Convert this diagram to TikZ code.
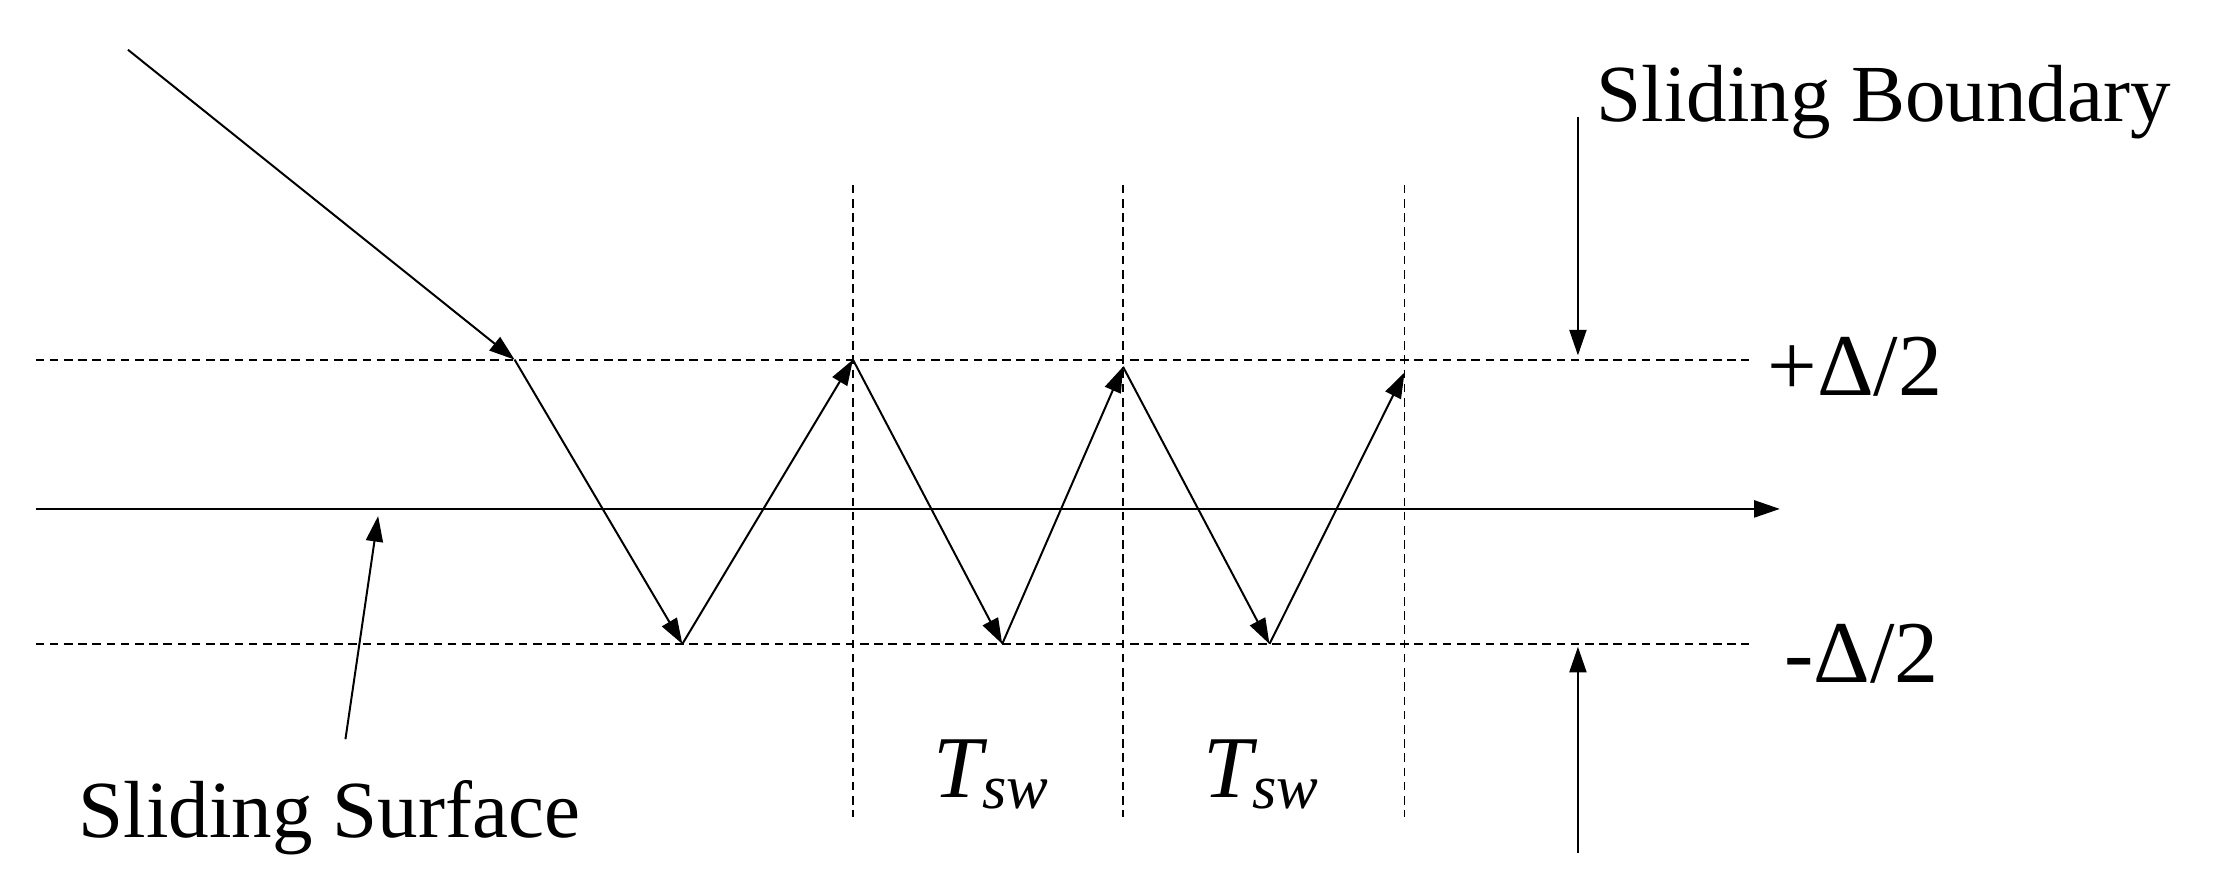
\documentclass[tikz,border=0pt]{standalone}
\usepackage{fontspec}
\setmainfont{Liberation Serif}
\usetikzlibrary{arrows.meta}
\begin{document}
\begin{tikzpicture}[x=1pt,y=-1pt,
  ln/.style={line width=1.4pt,-{Triangle[length=18pt,width=12pt]}},
  dl/.style={line width=1.2pt,dash pattern=on 6pt off 4pt},
  lbl/.style={font=\fontsize{57}{66}\selectfont,inner sep=0pt},
  dlt/.style={font=\fontsize{62}{70}\selectfont,inner sep=0pt}]
\useasboundingbox (0,0) rectangle (1568,627);
\coordinate (s) at (90,35);
\coordinate (p1) at (362,253);
\coordinate (q1) at (480,453);
\coordinate (p2) at (600,253);
\coordinate (q2) at (705,453);
\coordinate (p3) at (790,258);
\coordinate (q3) at (893,453);
\coordinate (p4) at (988,262);
\draw[dl] (25,253) -- (1230,253);
\draw[dl] (25,453) -- (1230,453);
\foreach \x in {600,790,988} \draw[dl] (\x,130) -- (\x,575);
\coordinate (a0) at (25,358); \coordinate (a1) at (1252,358);
\draw[ln] (a0) -- (a1);
\draw[ln] (s) -- (p1);
\draw[ln] (p1) -- (q1);
\draw[ln] (q1) -- (p2);
\draw[ln] (p2) -- (q2);
\draw[ln] (q2) -- (p3);
\draw[ln] (p3) -- (q3);
\draw[ln] (q3) -- (p4);
\node[lbl,anchor=west] (sb) at (1123,72) {Sliding Boundary};
\coordinate (b0) at (1110,82); \coordinate (b1) at (1110,250);
\draw[ln] (b0) -- (b1);
\coordinate (c0) at (1110,600); \coordinate (c1) at (1110,455);
\draw[ln] (c0) -- (c1);
\node[dlt,anchor=west] (pd) at (1243,258) {+Δ/2};
\node[dlt,anchor=west] (md) at (1255,460) {-Δ/2};
\node[dlt] (t1) at (697,545) {\itshape T\raisebox{-8pt}{\fontsize{44}{50}\selectfont sw}};
\node[dlt] (t2) at (887,545) {\itshape T\raisebox{-8pt}{\fontsize{44}{50}\selectfont sw}};
\node[lbl,anchor=west] (ss) at (55,575) {Sliding Surface};
\coordinate (d0) at (243,520); \coordinate (d1) at (266,363);
\draw[ln] (d0) -- (d1);
\end{tikzpicture}
\end{document}
